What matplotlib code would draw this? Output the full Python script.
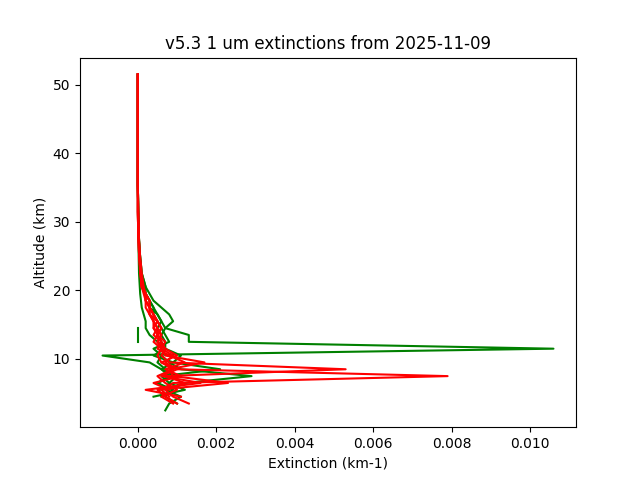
import matplotlib
matplotlib.use("Agg")
import matplotlib.pyplot as plt
import numpy as np

nan = np.nan
alt = [2.5, 3.5, 4.5, 5.5, 6.5, 7.5, 8.5, 9.5, 10.5, 11.5, 12.5, 13.5, 14.5, 15.5,
       16.5, 17.5, 18.5, 19.5, 20.5, 22.5, 25.5, 28.5, 31.5, 35.5, 40.5, 45.5, 51.5]

green = [
    [nan, nan, 0.0006, 0.0009, 0.0005, 0.0008, 0.0006, 0.0003, -0.0009, 0.0106, 0.0013, 0.0013,
     0.0007, 0.0006, 0.0005, 0.0004, 0.0003, 0.0002, 0.00015, 0.00008, 0.00004, 0.00002, 0.00001, 0, 0, 0, 0],
    [nan, nan, nan, 0.0006, 0.0012, 0.0029, 0.0011, 0.0008, 0.0006, 0.0007, 0.0007, 0.0006,
     0.0007, 0.0009, 0.0008, 0.0006, 0.0004, 0.0003, 0.0002, 0.0001, 0.00005, 0.00002, 0.00001, 0, 0, 0, 0],
    [0.0007, 0.0008, 0.0011, 0.0007, 0.0008, 0.0006, 0.0021, 0.0009, 0.0011, 0.0007, 0.0005, 0.0003,
     0.0002, 0.0002, 0.00015, 0.0001, 0.00008, 0.00006, 0.00005, 0.00003, 0.00002, 0.00001, 0, 0, 0, 0, 0],
    [nan, nan, nan, nan, nan, nan, nan, nan, nan, nan, 0.0, 0.0, 0.0, nan, nan, nan, nan,
     nan, nan, nan, nan, nan, nan, nan, nan, nan, nan],
    [nan, 0.0010, 0.0007, 0.0008, 0.0005, 0.0009, 0.0007, 0.0005, 0.0006, 0.0004, 0.0008, 0.0007,
     0.0006, 0.0005, 0.0004, 0.0004, 0.0003, 0.0002, 0.0002, 0.0001, 0.00005, 0.00002, 0.00001, 0, 0, 0, 0],
    [nan, nan, 0.0004, 0.0012, 0.0008, 0.0010, 0.0006, 0.0009, 0.0004, 0.0007, 0.0006, 0.0005,
     0.0005, 0.0006, 0.0005, 0.0003, 0.0003, 0.0002, 0.0001, 0.00008, 0.00004, 0.00002, 0.00001, 0, 0, 0, 0],
]

red = [
    [nan, 0.0013, 0.0009, 0.0007, 0.0012, 0.0007, 0.0053, 0.0008, 0.0006, 0.0007, 0.0006, 0.0005,
     0.0006, 0.0005, 0.0004, 0.0003, 0.0003, 0.0002, 0.00015, 0.0001, 0.00005, 0.00002, 0.00001, 0, 0, 0, 0],
    [nan, nan, 0.0008, 0.0006, 0.0009, 0.0079, 0.0010, 0.0007, 0.0009, 0.0006, 0.0005, 0.0006,
     0.0005, 0.0004, 0.0004, 0.0003, 0.0002, 0.0002, 0.0001, 0.00008, 0.00004, 0.00002, 0.00001, 0, 0, 0, 0],
    [nan, 0.0010, 0.0007, 0.0005, 0.0023, 0.0009, 0.0008, 0.0017, 0.0007, 0.0006, 0.0007, 0.0005,
     0.0004, 0.0004, 0.0003, 0.0003, 0.0002, 0.0002, 0.0001, 0.00007, 0.00003, 0.00001, 0, 0, 0, 0, 0],
    [nan, nan, 0.0011, 0.0002, 0.0016, 0.0006, 0.0010, 0.0006, 0.0005, 0.0006, 0.0004, 0.0005,
     0.0006, 0.0005, 0.0004, 0.0003, 0.0003, 0.0002, 0.0001, 0.00008, 0.00004, 0.00002, 0.00001, 0, 0, 0, 0],
    [nan, nan, nan, 0.0008, 0.0004, 0.0011, 0.0007, 0.0012, 0.0008, 0.0005, 0.0006, 0.0004,
     0.0005, 0.0004, 0.0003, 0.0002, 0.0002, 0.00015, 0.0001, 0.00006, 0.00003, 0.00001, 0, 0, 0, 0, 0],
    [nan, 0.0009, 0.0006, 0.0010, 0.0007, 0.0005, 0.0009, 0.0006, 0.0010, 0.0007, 0.0005, 0.0006,
     0.0004, 0.0005, 0.0003, 0.0003, 0.0002, 0.0002, 0.0001, 0.00007, 0.00003, 0.00001, 0, 0, 0, 0, 0],
]

fig, ax = plt.subplots(figsize=(6.4, 4.8), dpi=100)
for prof in green:
    ax.plot(prof, alt, color="green")
for prof in red:
    ax.plot(prof, alt, color="red")
ax.set_xlabel("Extinction (km-1)")
ax.set_ylabel("Altitude (km)")
ax.set_title("v5.3 1 um extinctions from 2025-11-09")
fig.savefig("out.png")
